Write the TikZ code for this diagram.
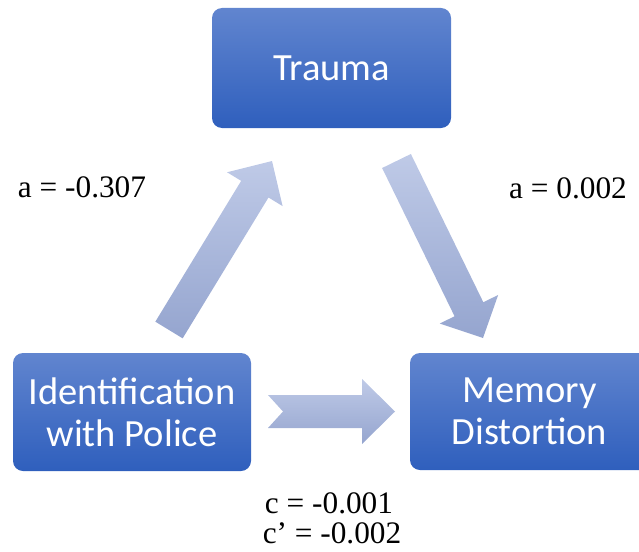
\documentclass[tikz,border=0pt]{standalone}
\usepackage{fontspec}
\setmainfont{Liberation Serif}
\newfontfamily\boxfont{Carlito}
\usetikzlibrary{calc}
\definecolor{boxtop}{HTML}{6185CF}
\definecolor{boxbot}{HTML}{2F5FBD}
\definecolor{arrtop}{HTML}{BFCAE7}
\definecolor{arrbot}{HTML}{95A5CF}
\tikzset{
  blockbox/.style={rectangle, rounded corners=10pt, draw=none,
    top color=boxtop, bottom color=boxbot, text=white,
    font=\boxfont\fontsize{38.5}{42}\selectfont, align=center, inner sep=0pt},
  lbl/.style={font=\fontsize{31.3}{34}\selectfont, inner sep=0pt, anchor=center},
  blockarrow/.style={draw=none, top color=arrtop, bottom color=arrbot}
}
% #1 tail, #2 tip, #3 half shaft, #4 half head, #5 head length, #6 notch
\newcommand{\fatarrow}[6]{%
  \path[blockarrow]
    ($(#1)!#3!90:(#2)$)
    -- ($($(#2)!#5!(#1)$)!#3!90:(#2)$)
    -- ($($(#2)!#5!(#1)$)!#4!90:(#2)$)
    -- (#2)
    -- ($($(#2)!#5!(#1)$)!#4!-90:(#2)$)
    -- ($($(#2)!#5!(#1)$)!#3!-90:(#2)$)
    -- ($(#1)!#3!-90:(#2)$)
    -- ($(#1)!#6!(#2)$) -- cycle;}
\begin{document}
\begin{tikzpicture}[x=1pt,y=-1pt]
\useasboundingbox (0,0) rectangle (639,551);
\begin{scope}
\clip (0,0) rectangle (639,551);
\node[blockbox, minimum width=239pt, minimum height=120pt] (trauma) at (331.5,68) {Trauma};
\node[blockbox, minimum width=238pt, minimum height=118pt] (ident) at (132,412) {Identification\\with Police};
\node[blockbox, minimum width=239pt, minimum height=117pt] (memory) at (529.5,411.5) {Memory\\Distortion};
% arrow coordinates
\coordinate (a1tail) at (169,330);
\coordinate (a1tip) at (272,161);
\coordinate (a2tail) at (396.5,161);
\coordinate (a2tip) at (483,338);
\coordinate (a3tail) at (268,411.5);
\coordinate (a3tip) at (395,411.5);
\fatarrow{a1tail}{a1tip}{16pt}{32.5pt}{33pt}{0pt}
\fatarrow{a2tail}{a2tip}{16pt}{32.5pt}{32pt}{0pt}
\fatarrow{a3tail}{a3tip}{16.5pt}{32.5pt}{33pt}{15pt}
\end{scope}
\node[lbl] (la) at (82,187) {a = -0.307};
\node[lbl] (lb) at (568,188) {a = 0.002};
\node[lbl] (lc) at (329,503) {c = -0.001};
\node[lbl] (ld) at (332,533) {c’ = -0.002};
\end{tikzpicture}
\end{document}
